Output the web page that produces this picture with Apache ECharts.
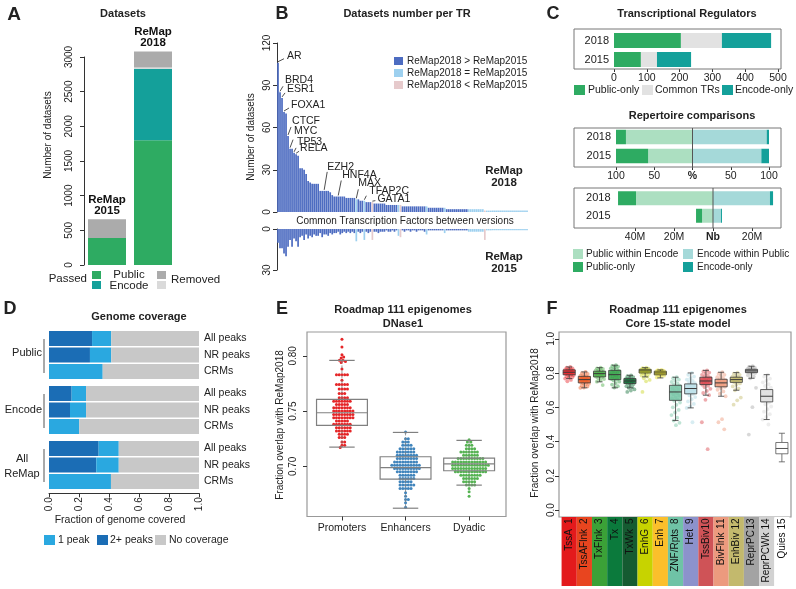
<!DOCTYPE html>
<html>
<head>
<meta charset="utf-8">
<script src="https://cdn.jsdelivr.net/npm/echarts@6.0.0/dist/echarts.min.js"></script>
<style>
html,body{margin:0;padding:0;background:#fff;}
#chart{width:796px;height:589px;}
</style>
</head>
<body>
<div id="chart"></div>
<script>
const FONT = "'Liberation Sans', Arial, Helvetica, sans-serif";
const INK = '#222';

// ---------------- Panel A : Datasets ----------------
const aYears = ['2015', '2018'];
const aPublicPassed = [390, 1800];
const aEncodePassed = [0, 1030];
const aEncodeRemoved = [0, 20];
const aPublicRemoved = [270, 230];
const aBarTitles = ['ReMap\n2015', 'ReMap\n2018'];

// ---------------- Panel B : Datasets number per TR ----------------
const bReMap2018 = [106,85,81,71,70,54,45,45,42,41,
  40,31,31,30,27,22,21,20,20,20,
  20,15,15,15,15,15,14,12,11,11,
  11,11,11,11,10,10,10,10,10,9,
  9,8,8,8,7,7,7,7,6,6,
  6,6,6,6,5,5,5,5,5,5,
  5,5,4,4,4,4,4,4,4,4,
  4,4,4,4,4,3,3,3,3,3,
  3,3,3,3,2,2,2,2,2,2,
  2,2,2,2,2,2,2,2,2,2,
  2,2,2,1,1,1,1,1,1,1,
  1,1,1,1,1,1,1,1,1,1,
  1,1,1,1,1];
const bReMap2015 = [10,14,14,18,20,13,8,13,7,9,
  13,6,5,8,4,7,5,6,4,5,
  5,3,6,4,4,5,3,4,3,3,
  2,4,3,2,3,2,3,2,3,9,
  2,3,2,8,2,3,2,8,2,2,
  3,2,2,2,1,2,2,1,2,1,
  5,6,1,2,1,1,2,1,1,2,
  1,1,1,2,4,1,1,1,1,1,
  1,1,1,3,1,1,1,1,1,1,
  1,1,1,1,1,2,2,2,2,2,
  2,2,2,8,1,1,1,1,1,1,
  1,1,1,1,1,1,1,1,1,1,
  1,1,1,1,1];
// 0: ReMap2018 > ReMap2015, 1: equal, 2: ReMap2018 < ReMap2015
const bComparison = [0,0,0,0,0,0,0,0,0,0,
  0,0,0,0,0,0,0,0,0,0,
  0,0,0,0,0,0,0,0,0,0,
  0,0,0,0,0,0,0,0,0,1,
  0,0,0,1,0,0,0,2,0,0,
  0,0,0,0,0,0,0,0,0,0,
  1,2,0,0,0,0,0,0,0,0,
  0,0,0,0,1,0,0,0,0,0,
  0,0,0,1,0,0,0,0,0,0,
  0,0,0,0,0,1,1,1,1,1,
  1,1,1,2,1,1,1,1,1,1,
  1,1,1,1,1,1,1,1,1,1,
  1,1,1,1,1];
const bLegendNames = ['ReMap2018 > ReMap2015', 'ReMap2018 = ReMap2015', 'ReMap2018 < ReMap2015'];
const bLabelNames = ['AR','BRD4','ESR1','FOXA1','CTCF','MYC','TP53','RELA','EZH2','HNF4A','MAX','TFAP2C','GATA1'];
const bLabelBars = [0,1,2,3,5,6,8,9,23,30,39,43,47];

// ---------------- Panel C ----------------
const cYears = ['2018', '2015'];
const cTRPublicOnly = [204, 82];
const cTRCommon = [125, 49];
const cTREncodeOnly = [150, 104];
const cPctPublicWithin = [87, 58];
const cPctPublicOnly = [13, 42];
const cPctEncodeWithin = [97, 90];
const cPctEncodeOnly = [3, 10];
const cNbPublicWithin = [39.5, 5.6];
const cNbPublicOnly = [9.2, 3.1];
const cNbEncodeWithin = [29.2, 4.1];
const cNbEncodeOnly = [1.6, 0.5];

// ---------------- Panel D : Genome coverage ----------------
const dGroups = ['Public', 'Encode', 'All\nReMap'];
const dRows = ['All peaks', 'NR peaks', 'CRMs'];
const dTwoPlus = [[0.287, 0.273, 0], [0.151, 0.140, 0], [0.331, 0.315, 0]];
const dOnePeak = [[0.128, 0.142, 0.358], [0.096, 0.107, 0.202], [0.134, 0.150, 0.413]];
const dNoCoverage = [[0.585, 0.585, 0.642], [0.753, 0.753, 0.798], [0.535, 0.535, 0.587]];

// ---------------- Panel E : DNase1 ----------------
const eGroups = ['Promoters', 'Enhancers', 'Dyadic'];
const ePromoters = [0.815,0.808,0.801,0.799,0.798,0.796,0.796,0.795,0.794,0.788,
  0.783,0.783,0.783,0.783,0.783,0.778,0.774,0.774,0.774,0.774,0.774,
  0.770,0.770,0.770,0.770,0.766,0.766,0.766,0.762,0.762,0.762,0.762,
  0.759,0.759,0.759,0.759,0.759,0.759,0.759,0.756,0.756,0.756,0.756,0.756,
  0.753,0.753,0.753,0.753,0.753,0.753,0.753,
  0.750,0.750,0.750,0.750,0.750,0.750,0.750,0.750,
  0.747,0.747,0.747,0.747,0.747,0.747,0.747,0.747,
  0.744,0.744,0.744,0.744,0.744,0.744,0.744,0.744,
  0.741,0.741,0.741,0.741,0.741,
  0.738,0.738,0.738,0.738,0.738,0.738,0.738,
  0.735,0.735,0.735,0.735,0.735,0.735,
  0.732,0.732,0.732,0.732,0.732,0.732,
  0.729,0.729,0.729,0.729,0.726,0.726,0.726,0.722,0.722,0.719,0.719,0.717];
const eEnhancers = [0.731,0.725,0.725,0.722,0.722,0.722,0.719,0.719,0.719,0.719,
  0.716,0.716,0.716,0.716,0.716,0.716,
  0.713,0.713,0.713,0.713,0.713,0.713,0.713,
  0.710,0.710,0.710,0.710,0.710,0.710,0.710,0.710,
  0.707,0.707,0.707,0.707,0.707,0.707,0.707,0.707,
  0.704,0.704,0.704,0.704,0.704,0.704,0.704,0.704,0.704,
  0.701,0.701,0.701,0.701,0.701,0.701,0.701,0.701,0.701,0.701,0.701,
  0.698,0.698,0.698,0.698,0.698,0.698,0.698,0.698,0.698,0.698,
  0.695,0.695,0.695,0.695,0.695,0.695,0.695,0.695,
  0.692,0.692,0.692,0.692,0.692,0.692,
  0.689,0.689,0.689,0.689,0.689,0.689,
  0.686,0.686,0.686,0.686,0.686,
  0.683,0.683,0.683,0.683,0.683,0.683,
  0.680,0.680,0.680,0.680,0.680,
  0.676,0.673,0.670,0.670,0.667,0.663];
const eDyadic = [0.724,0.722,0.722,0.719,0.719,0.719,0.716,0.716,0.716,0.716,
  0.713,0.713,0.713,0.713,0.713,0.713,0.713,
  0.710,0.710,0.710,0.710,0.710,0.710,
  0.707,0.707,0.707,0.707,0.707,0.707,0.707,0.707,0.707,0.707,
  0.704,0.704,0.704,0.704,0.704,0.704,0.704,0.704,0.704,0.704,0.704,0.704,0.704,
  0.701,0.701,0.701,0.701,0.701,0.701,0.701,0.701,0.701,0.701,0.701,0.701,0.701,0.701,
  0.698,0.698,0.698,0.698,0.698,0.698,0.698,0.698,0.698,0.698,0.698,0.698,0.698,
  0.695,0.695,0.695,0.695,0.695,0.695,0.695,0.695,0.695,0.695,0.695,0.695,
  0.692,0.692,0.692,0.692,0.692,0.692,0.692,0.692,
  0.689,0.689,0.689,0.689,0.689,0.689,
  0.686,0.686,0.686,0.686,0.686,
  0.683,0.683,0.683,0.683,0.680,0.677,0.673];
// [lower whisker, Q1, median, Q3, upper whisker]
const eBoxStats = [[0.7174,0.737,0.7485,0.7606,0.7959],[0.6621,0.6884,0.6988,0.7087,0.7307],[0.683,0.696,0.7023,0.7074,0.7235]];
const eYTicks = [0.70, 0.75, 0.80];

// ---------------- Panel F : Core 15-state model ----------------
const fStates = ['TssA','TssAFlnk','TxFlnk','Tx','TxWk','EnhG','Enh','ZNF/Rpts','Het','TssBiv','BivFlnk','EnhBiv','ReprPC','ReprPCWk','Quies'];
const fStateNumbers = ['1','2','3','4','5','6','7','8','9','10','11','12','13','14','15'];
const fBoxStats = [
  [0.768,0.790,0.805,0.819,0.836],
  [0.714,0.743,0.762,0.781,0.807],
  [0.749,0.778,0.797,0.811,0.832],
  [0.714,0.762,0.791,0.816,0.846],
  [0.714,0.739,0.754,0.768,0.787],
  [0.778,0.801,0.813,0.822,0.832],
  [0.772,0.790,0.801,0.811,0.819],
  [0.523,0.641,0.690,0.729,0.776],
  [0.597,0.679,0.710,0.737,0.801],
  [0.671,0.733,0.754,0.776,0.816],
  [0.665,0.720,0.743,0.764,0.805],
  [0.700,0.746,0.762,0.776,0.803],
  [0.770,0.803,0.813,0.822,0.840],
  [0.529,0.632,0.665,0.704,0.791],
  [0.282,0.329,0.360,0.395,0.449]];
const fPoints = [
  [0.836,0.832,0.828,0.825,0.822,0.82,0.818,0.815,0.813,0.81,0.808,0.806,0.805,0.804,0.802,0.8,0.798,0.796,0.793,0.79,0.787,0.784,0.78,0.776,0.772,0.768,0.76,0.752],
  [0.807,0.8,0.795,0.79,0.785,0.781,0.778,0.775,0.772,0.769,0.766,0.763,0.762,0.76,0.757,0.754,0.751,0.748,0.745,0.742,0.738,0.733,0.728,0.722,0.716,0.714],
  [0.832,0.828,0.824,0.82,0.816,0.812,0.809,0.806,0.803,0.8,0.798,0.797,0.795,0.792,0.789,0.786,0.783,0.779,0.775,0.77,0.765,0.758,0.75,0.73],
  [0.846,0.842,0.838,0.833,0.828,0.823,0.818,0.814,0.81,0.805,0.8,0.795,0.791,0.787,0.782,0.777,0.772,0.767,0.763,0.758,0.75,0.742,0.733,0.724,0.716],
  [0.787,0.782,0.777,0.772,0.768,0.765,0.762,0.759,0.756,0.754,0.752,0.749,0.746,0.743,0.74,0.736,0.73,0.724,0.718,0.714,0.705,0.698,0.69],
  [0.832,0.829,0.826,0.823,0.821,0.819,0.817,0.815,0.813,0.811,0.809,0.807,0.805,0.803,0.8,0.796,0.791,0.786,0.78,0.77,0.76,0.752,0.69],
  [0.819,0.817,0.815,0.813,0.811,0.809,0.807,0.805,0.803,0.801,0.799,0.797,0.795,0.792,0.789,0.785,0.78,0.775],
  [0.776,0.77,0.762,0.755,0.748,0.74,0.733,0.727,0.72,0.712,0.705,0.698,0.69,0.683,0.676,0.668,0.66,0.652,0.645,0.638,0.628,0.615,0.6,0.585,0.57,0.555,0.54,0.523,0.51,0.496],
  [0.801,0.79,0.78,0.77,0.762,0.755,0.748,0.742,0.736,0.73,0.724,0.718,0.712,0.708,0.703,0.697,0.69,0.684,0.678,0.67,0.66,0.648,0.635,0.62,0.605,0.597,0.513],
  [0.816,0.81,0.803,0.797,0.79,0.784,0.778,0.774,0.77,0.765,0.76,0.756,0.753,0.75,0.746,0.742,0.737,0.732,0.726,0.718,0.708,0.696,0.684,0.671,0.644,0.513,0.356],
  [0.805,0.797,0.79,0.783,0.776,0.77,0.764,0.759,0.754,0.749,0.745,0.741,0.736,0.731,0.726,0.72,0.712,0.703,0.693,0.68,0.665,0.531,0.513,0.472],
  [0.803,0.797,0.79,0.785,0.78,0.776,0.772,0.768,0.765,0.762,0.76,0.757,0.754,0.75,0.746,0.74,0.732,0.722,0.71,0.7,0.657,0.641,0.616],
  [0.84,0.836,0.832,0.828,0.825,0.822,0.82,0.818,0.816,0.814,0.812,0.81,0.808,0.806,0.803,0.8,0.795,0.788,0.78,0.77,0.714,0.601,0.441],
  [0.791,0.78,0.768,0.757,0.746,0.735,0.725,0.715,0.706,0.698,0.69,0.682,0.674,0.667,0.66,0.652,0.644,0.636,0.628,0.618,0.605,0.59,0.575,0.56,0.545,0.529,0.5],
  [0.449,0.43,0.41,0.395,0.38,0.37,0.36,0.35,0.34,0.329,0.31,0.295,0.282]];
const fYTicks = [0, 0.2, 0.4, 0.6, 0.8, 1.0];

// ---------------- Styles ----------------
const GREEN = '#2eab62', TEAL = '#14a09a', GRAY = '#ababab', LGRAY = '#dadada';
const COMMON = '#e2e2e2', LGREEN = '#acdfc1', LTEAL = '#a5d9d9';
const B_COLORS = ['#4d6cc1', '#9dd0ef', '#e6cacc'];
const D_ONE = '#2aa8e0', D_TWO = '#1b6db5', D_NONE = '#c8c8c8';
const E_COLORS = ['#e41a1c', '#377eb8', '#4daf4a'];
const F_BAND = ['#e31a1c','#e8451f','#3ba137','#0b7a3c','#155b31','#c7d300','#fbbf2b','#6fc3a6','#8c92cc','#cf5357','#ec9a7e','#c3b96d','#a3a3a3','#d2d2d2','#ffffff'];
const F_BOX = ['#e8262b','#ee5a24','#4cae48','#32a046','#0f6c35','#c9d41f','#e8df1c','#72c3a2','#b9dfe7','#d9444c','#ee9677','#c4bb6a','#a8a8a8','#dddddd','#ffffff'];
const F_PT = ['#e8262b','#ee5a24','#4cae48','#32a046','#0f6c35','#c9d41f','#e8df1c','#72c3a2','#a9d8e3','#d9444c','#ee9677','#c4bb6a','#a8a8a8','#d6d6d6','#ffffff'];
const F_NAME_OFFSET = [12,12,12,12,12,12,12,12,12,13,15.5,15.5,13,15.5,15.5];

const lab = (o) => Object.assign({fontFamily: FONT, fontSize: 10, color: INK}, o || {});
const tickStyle = {color: '#333', width: 1};

const grids = [], xAxes = [], yAxes = [], series = [], G = [];

function T(x, y, text, o) {
  o = o || {};
  const al = o.align || 'center';
  G.push({type: 'text', x: x, y: y, rotation: o.rot || 0, silent: true, z: 100,
    style: {text: text, fill: o.color || INK, font: (o.bold ? 'bold ' : '') + (o.size || 10) + 'px ' + FONT,
      textAlign: al, align: al, textVerticalAlign: 'middle', verticalAlign: 'middle', lineHeight: o.lh || null}});
}
function R(x, y, w, h, fill, stroke) {
  G.push({type: 'rect', shape: {x: x, y: y, width: w, height: h}, silent: true, z: 90,
    style: {fill: fill || 'none', stroke: stroke || null, lineWidth: 1}});
}
function L(x1, y1, x2, y2, color, w) {
  G.push({type: 'line', shape: {x1: x1, y1: y1, x2: x2, y2: y2}, silent: true, z: 90,
    style: {stroke: color || '#444', lineWidth: w || 1}});
}

// ===== Grid 0 : A =====
grids.push({left: 84, top: 57, width: 92, height: 208});
xAxes.push({gridIndex: 0, type: 'category', data: aYears, show: false});
yAxes.push({gridIndex: 0, type: 'value', min: 0, max: 3000, interval: 500, splitLine: {show: false},
  axisLine: {show: true, lineStyle: tickStyle}, axisTick: {show: true, length: 4, lineStyle: tickStyle},
  axisLabel: lab({rotate: 90, margin: 10, formatter: v => String(v)})});
[[aPublicPassed, GREEN], [aEncodePassed, TEAL], [aEncodeRemoved, LGRAY], [aPublicRemoved, GRAY]].forEach((s, k) => {
  series.push({type: 'bar', xAxisIndex: 0, yAxisIndex: 0, stack: 'a', barWidth: 38, clip: false,
    data: s[0], itemStyle: {color: s[1]},
    label: k === 3 ? {show: true, position: 'top', distance: 3, formatter: p => aBarTitles[p.dataIndex],
      fontFamily: FONT, fontWeight: 'bold', fontSize: 11.5, lineHeight: 11, color: '#111'} : {show: false}});
});

// ===== Grid 1,2 : B =====
const bIdx = bReMap2018.map((v, i) => String(i));
grids.push({left: 277, top: 43, width: 251, height: 169});
grids.push({left: 277, top: 229, width: 251, height: 41});
xAxes.push({gridIndex: 1, type: 'category', data: bIdx, show: false});
xAxes.push({gridIndex: 2, type: 'category', data: bIdx, show: false});
yAxes.push({gridIndex: 1, type: 'value', min: 0, max: 120, interval: 30, splitLine: {show: false},
  axisLine: {show: true, lineStyle: tickStyle}, axisTick: {show: true, length: 4, lineStyle: tickStyle},
  axisLabel: lab({rotate: 90, margin: 5})});
yAxes.push({gridIndex: 2, type: 'value', min: 0, max: 30, interval: 30, inverse: true, splitLine: {show: false},
  axisLine: {show: true, lineStyle: tickStyle}, axisTick: {show: true, length: 4, lineStyle: tickStyle},
  axisLabel: lab({rotate: 90, margin: 5})});
series.push({type: 'bar', xAxisIndex: 1, yAxisIndex: 1, barCategoryGap: '15%',
  data: bReMap2018.map((v, i) => ({value: v, itemStyle: {color: B_COLORS[bComparison[i]]}}))});
series.push({type: 'bar', xAxisIndex: 2, yAxisIndex: 2, barCategoryGap: '15%',
  data: bReMap2015.map((v, i) => ({value: v, itemStyle: {color: B_COLORS[bComparison[i]]}}))});
// label layout: [lineEndDx, lineEndDy, textDx, textDy] relative to bar top
const B_LABEL_LAYOUT = [[6,-4,9,-7],[3,-6,5,-12],[3,-5,5,-9],[5,-4,7,-7],[3,-9,4,-15],[3,-9,4,-17.6],
  [2,-5,3,-11],[3,-3,4,-6],[3,-19,3,-24],[3,-16,4,-21],[2,-10,2,-16],[2,-5,5,-10],[3,-1.5,5,-3]];
series.push({type: 'custom', xAxisIndex: 1, yAxisIndex: 1, z: 10,
  data: bLabelBars.map((b, k) => [b, bReMap2018[b], k]), encode: {x: 0, y: 1},
  renderItem: (params, api) => {
    const k = api.value(2), lay = B_LABEL_LAYOUT[k];
    const p = api.coord([api.value(0), api.value(1)]);
    return {type: 'group', children: [
      {type: 'line', shape: {x1: p[0], y1: p[1] - 1, x2: p[0] + lay[0], y2: p[1] + lay[1]}, style: {stroke: '#222', lineWidth: 0.8}},
      {type: 'text', x: p[0] + lay[2], y: p[1] + lay[3], style: {text: bLabelNames[k], fill: '#222', font: '10.5px ' + FONT,
        align: 'left', textAlign: 'left', verticalAlign: 'middle', textVerticalAlign: 'middle'}}
    ]};
  }});

// ===== Grid 3 : C Transcriptional Regulators =====
grids.push({left: 614, top: 31, width: 164, height: 38});
xAxes.push({gridIndex: 3, type: 'value', min: 0, max: 500, interval: 100, splitLine: {show: false},
  axisLine: {show: false}, axisTick: {show: true, length: 3, lineStyle: tickStyle}, axisLabel: lab({margin: 4, fontSize: 10.5})});
yAxes.push({gridIndex: 3, type: 'category', data: cYears, inverse: true, axisLine: {show: false}, axisTick: {show: false},
  axisLabel: lab({margin: 5, fontSize: 11})});
[[cTRPublicOnly, GREEN], [cTRCommon, COMMON], [cTREncodeOnly, TEAL]].forEach(s => {
  series.push({type: 'bar', xAxisIndex: 3, yAxisIndex: 3, stack: 'c1', barWidth: 15, data: s[0], itemStyle: {color: s[1]}});
});

// ===== Grid 4 : C Repertoire % =====
grids.push({left: 616, top: 127.5, width: 153, height: 38});
xAxes.push({gridIndex: 4, type: 'value', min: -100, max: 100, interval: 50, offset: 1.5, splitLine: {show: false},
  axisLine: {show: false}, axisTick: {show: true, length: 3, lineStyle: tickStyle},
  axisLabel: lab({margin: 4, fontSize: 10.5, formatter: v => v === 0 ? '{b|%}' : String(Math.abs(v)),
    rich: {b: {fontWeight: 'bold', fontFamily: FONT, fontSize: 10.5, color: INK}}})});
yAxes.push({gridIndex: 4, type: 'category', data: cYears, inverse: true, axisLine: {show: false}, axisTick: {show: false},
  axisLabel: lab({margin: 5, fontSize: 11})});
[[cPctPublicWithin, LGREEN, -1], [cPctPublicOnly, GREEN, -1], [cPctEncodeWithin, LTEAL, 1], [cPctEncodeOnly, TEAL, 1]].forEach(s => {
  series.push({type: 'bar', xAxisIndex: 4, yAxisIndex: 4, stack: 'c2', barWidth: 14.5,
    data: s[0].map(v => v * s[2]), itemStyle: {color: s[1]}});
});

// ===== Grid 5 : C Repertoire Nb =====
grids.push({left: 615.5, top: 189.5, width: 165.75, height: 35});
xAxes.push({gridIndex: 5, type: 'value', min: -50, max: 35, offset: 3.5, splitLine: {show: false},
  axisLine: {show: false}, axisTick: {show: true, length: 3, lineStyle: tickStyle, customValues: [-40, -20, 0, 20]},
  axisLabel: lab({margin: 4, fontSize: 10.5, customValues: [-40, -20, 0, 20],
    formatter: v => v === 0 ? '{b|Nb}' : Math.abs(v) + 'M',
    rich: {b: {fontWeight: 'bold', fontFamily: FONT, fontSize: 10.5, color: INK}}})});
yAxes.push({gridIndex: 5, type: 'category', data: cYears, inverse: true, axisLine: {show: false}, axisTick: {show: false},
  axisLabel: lab({margin: 5, fontSize: 11})});
[[cNbPublicWithin, LGREEN, -1], [cNbPublicOnly, GREEN, -1], [cNbEncodeWithin, LTEAL, 1], [cNbEncodeOnly, TEAL, 1]].forEach(s => {
  series.push({type: 'bar', xAxisIndex: 5, yAxisIndex: 5, stack: 'c3', barWidth: 14,
    data: s[0].map(v => v * s[2]), itemStyle: {color: s[1]}});
});

// ===== Grids 6-8 : D =====
const dTops = [330.25, 385.25, 440.25];
dGroups.forEach((g, gi) => {
  const idx = 6 + gi;
  grids.push({left: 49, top: dTops[gi], width: 150, height: 49.5});
  xAxes.push({gridIndex: idx, type: 'value', min: 0, max: 1, interval: 0.2, show: gi === 2, offset: 3.5,
    splitLine: {show: false}, axisLine: {show: true, lineStyle: tickStyle}, axisTick: {show: true, length: 4, lineStyle: tickStyle},
    axisLabel: lab({rotate: 90, margin: 4, formatter: v => v.toFixed(1)})});
  yAxes.push({gridIndex: idx, type: 'category', data: dRows, inverse: true, position: 'right',
    axisLine: {show: false}, axisTick: {show: false}, axisLabel: lab({margin: 5, fontSize: 10.5})});
  [[dTwoPlus[gi], D_TWO], [dOnePeak[gi], D_ONE], [dNoCoverage[gi], D_NONE]].forEach(s => {
    series.push({type: 'bar', xAxisIndex: idx, yAxisIndex: idx, stack: 'd' + gi, barWidth: 15, data: s[0], itemStyle: {color: s[1]}});
  });
});

// ===== Grid 9 : E =====
const E_X = [0.45, 3.58], E_Y = [0.6546, 0.8216];
grids.push({left: 307, top: 332, width: 199, height: 184.5, show: true, borderColor: '#999', borderWidth: 1.2});
xAxes.push({gridIndex: 9, type: 'value', min: E_X[0], max: E_X[1], splitLine: {show: false}, axisLine: {show: false},
  axisTick: {show: true, length: 4, lineStyle: tickStyle, customValues: [1, 2, 3]},
  axisLabel: lab({fontSize: 10.5, margin: 6, customValues: [1, 2, 3], formatter: v => eGroups[Math.round(v) - 1] || ''})});
yAxes.push({gridIndex: 9, type: 'value', min: E_Y[0], max: E_Y[1], splitLine: {show: false}, axisLine: {show: false},
  axisTick: {show: true, length: 4, lineStyle: tickStyle, customValues: eYTicks},
  axisLabel: lab({rotate: 90, margin: 9, customValues: eYTicks, formatter: v => v.toFixed(2)})});
// beeswarm layout (pixel-based horizontal offsets)
function swarm(values, pxPerUnitY, d) {
  const order = values.map((v, i) => i).sort((a, b) => values[b] - values[a]);
  const placed = [], off = new Array(values.length);
  for (const i of order) {
    const y = values[i] * pxPerUnitY;
    let best = 0;
    for (let k = 0; k < 400; k++) {
      const cand = (k % 2 === 1 ? 1 : -1) * Math.ceil(k / 2) * 0.25;
      let ok = true;
      for (const p of placed) { const dx = p.x - cand, dy = p.y - y; if (dx * dx + dy * dy < d * d) { ok = false; break; } }
      if (ok) { best = cand; break; }
    }
    placed.push({x: best, y: y}); off[i] = best;
  }
  return off;
}
const ePxY = 184.5 / (E_Y[1] - E_Y[0]), ePxX = 199 / (E_X[1] - E_X[0]);
[ePromoters, eEnhancers, eDyadic].forEach((vals, gi) => {
  const off = swarm(vals, ePxY, 2.7);
  series.push({type: 'scatter', xAxisIndex: 9, yAxisIndex: 9, symbolSize: 3, z: 3,
    itemStyle: {color: E_COLORS[gi], opacity: 0.95},
    data: vals.map((v, i) => [gi + 1 + off[i] / ePxX, v])});
});
function boxRenderer(cfg) {
  return (params, api) => {
    const x = api.value(0), lw = api.value(1), q1 = api.value(2), med = api.value(3), q3 = api.value(4), uw = api.value(5);
    const k = params.dataIndex;
    const tl = api.coord([x - cfg.half, q3]), br = api.coord([x + cfg.half, q1]);
    const m = api.coord([x, med]), up = api.coord([x, uw]), lo = api.coord([x, lw]);
    const cl = api.coord([x - cfg.cap, med])[0], cr = api.coord([x + cfg.cap, med])[0];
    const st = {stroke: cfg.stroke(k), lineWidth: cfg.lw};
    const wst = {stroke: cfg.stroke(k), lineWidth: cfg.wlw, lineDash: cfg.dash};
    return {type: 'group', children: [
      {type: 'line', shape: {x1: m[0], y1: up[1], x2: m[0], y2: tl[1]}, style: wst},
      {type: 'line', shape: {x1: m[0], y1: br[1], x2: m[0], y2: lo[1]}, style: wst},
      {type: 'line', shape: {x1: cl, y1: up[1], x2: cr, y2: up[1]}, style: st},
      {type: 'line', shape: {x1: cl, y1: lo[1], x2: cr, y2: lo[1]}, style: st},
      {type: 'rect', shape: {x: tl[0], y: tl[1], width: br[0] - tl[0], height: br[1] - tl[1]},
        style: {fill: cfg.fill(k), stroke: cfg.stroke(k), lineWidth: cfg.lw}},
      {type: 'line', shape: {x1: tl[0], y1: m[1], x2: br[0], y2: m[1]}, style: {stroke: cfg.stroke(k), lineWidth: cfg.mlw}}
    ]};
  };
}
series.push({type: 'custom', xAxisIndex: 9, yAxisIndex: 9, z: 5, encode: {x: 0, y: [1, 2, 3, 4, 5]},
  data: eBoxStats.map((s, i) => [i + 1].concat(s)),
  renderItem: boxRenderer({half: 0.4, cap: 0.2, lw: 1.2, wlw: 0.8, mlw: 1.2, dash: [3, 2],
    stroke: () => '#808080', fill: () => 'rgba(0,0,0,0)'})});

// ===== Grid 10 : F =====
const F_X = [0.33, 15.6];
grids.push({left: 559, top: 332, width: 232, height: 185, show: true, borderColor: '#999', borderWidth: 1.2});
xAxes.push({gridIndex: 10, type: 'value', min: F_X[0], max: F_X[1], show: false, splitLine: {show: false}});
yAxes.push({gridIndex: 10, type: 'value', min: -0.04, max: 1.04, splitLine: {show: false}, axisLine: {show: false},
  axisTick: {show: true, length: 4, lineStyle: tickStyle, customValues: fYTicks},
  axisLabel: lab({rotate: 90, margin: 3, customValues: fYTicks, formatter: v => v.toFixed(1)})});
const fScatter = [];
fPoints.forEach((vals, ci) => {
  vals.forEach((v, k) => {
    const jit = (((k + 1) * 0.6180339887) % 1 - 0.5) * 0.62;
    fScatter.push({value: [ci + 1 + jit, v], itemStyle: {color: F_PT[ci]}});
  });
});
series.push({type: 'scatter', xAxisIndex: 10, yAxisIndex: 10, symbolSize: 3.8, z: 3, itemStyle: {opacity: 0.45}, data: fScatter});
series.push({type: 'custom', xAxisIndex: 10, yAxisIndex: 10, z: 5, encode: {x: 0, y: [1, 2, 3, 4, 5]},
  data: fBoxStats.map((s, i) => [i + 1].concat(s)),
  renderItem: boxRenderer({half: 0.4, cap: 0.2, lw: 0.8, wlw: 0.8, mlw: 1, dash: null,
    stroke: k => k === 14 ? '#555' : '#3a3a3a',
    fill: k => echarts.color.modifyAlpha(F_BOX[k], 0.8)})});

// ===== Grid 11 : F colour band =====
grids.push({left: 559, top: 517, width: 232, height: 69});
xAxes.push({gridIndex: 11, type: 'value', min: F_X[0], max: F_X[1], show: false, splitLine: {show: false}});
yAxes.push({gridIndex: 11, type: 'value', min: 0, max: 1, show: false, splitLine: {show: false}});
series.push({type: 'custom', xAxisIndex: 11, yAxisIndex: 11, encode: {x: 0, y: 1},
  data: fStates.map((s, i) => [i + 1, 0, i]),
  renderItem: (params, api) => {
    const i = api.value(2), x = api.value(0);
    const a = api.coord([x - 0.5, 1]), b = api.coord([x + 0.5, 0]);
    const cx = (a[0] + b[0]) / 2;
    const font = '10px ' + FONT;
    return {type: 'group', children: [
      {type: 'rect', shape: {x: a[0], y: a[1], width: b[0] - a[0], height: b[1] - a[1]}, style: {fill: F_BAND[i]}},
      {type: 'text', x: cx, y: a[1] + 1.5, rotation: Math.PI / 2,
        style: {text: fStateNumbers[i], font: font, fill: '#111', align: 'right', textAlign: 'right', verticalAlign: 'middle', textVerticalAlign: 'middle'}},
      {type: 'text', x: cx, y: a[1] + F_NAME_OFFSET[i], rotation: Math.PI / 2,
        style: {text: fStates[i], font: font, fill: '#111', align: 'right', textAlign: 'right', verticalAlign: 'middle', textVerticalAlign: 'middle'}}
    ]};
  }});

// ================= Texts, legends, frames =================
T(14, 15, 'A', {bold: true, size: 19});
T(282, 14, 'B', {bold: true, size: 18});
T(553, 14, 'C', {bold: true, size: 18});
T(10, 309, 'D', {bold: true, size: 18});
T(282, 309, 'E', {bold: true, size: 18});
T(552, 309, 'F', {bold: true, size: 18});
T(123, 14, 'Datasets', {bold: true, size: 11});
T(407, 14, 'Datasets number per TR', {bold: true, size: 11});
T(687, 14, 'Transcriptional Regulators', {bold: true, size: 11});
T(692, 116, 'Repertoire comparisons', {bold: true, size: 11});
T(139, 317, 'Genome coverage', {bold: true, size: 11});
T(403, 310, 'Roadmap 111 epigenomes', {bold: true, size: 11});
T(403, 324, 'DNase1', {bold: true, size: 11});
T(678, 310, 'Roadmap 111 epigenomes', {bold: true, size: 11});
T(678, 324, 'Core 15-state model', {bold: true, size: 11});
T(48, 135, 'Number of datasets', {rot: Math.PI / 2, size: 10});
T(251, 137, 'Number of datasets', {rot: Math.PI / 2, size: 10});
T(280, 425, 'Fraction overlap with ReMap2018', {rot: Math.PI / 2, size: 10});
T(535, 423, 'Fraction overlap with ReMap2018', {rot: Math.PI / 2, size: 10});
T(120, 520, 'Fraction of genome covered', {size: 10.5});
T(87, 279, 'Passed', {align: 'right', size: 11.5});
R(92, 271, 9, 8, GREEN); R(92, 281, 9, 8, TEAL);
T(129, 275, 'Public', {size: 11.5}); T(129, 286, 'Encode', {size: 11.5});
R(157, 271, 9, 8, GRAY); R(157, 281, 9, 8, LGRAY);
T(171, 280, 'Removed', {align: 'left', size: 11.5});
T(504, 171, 'ReMap', {bold: true, size: 11.5}); T(504, 183, '2018', {bold: true, size: 11.5});
T(504, 257, 'ReMap', {bold: true, size: 11.5}); T(504, 269, '2015', {bold: true, size: 11.5});
T(405, 221, 'Common Transcription Factors between versions', {size: 10});
bLegendNames.forEach((n, k) => { R(394, 57 + 12 * k, 9, 8, B_COLORS[k]); T(407, 61 + 12 * k, n, {align: 'left', size: 10}); });
R(574, 29, 207, 40, 'none', '#777');
R(574, 128, 207, 39, 'none', '#777');
R(574, 188, 207, 40, 'none', '#777');
R(574, 85, 11, 10, GREEN); T(588, 90, 'Public-only', {align: 'left', size: 10.5});
R(642, 85, 11, 10, COMMON); T(655, 90, 'Common TRs', {align: 'left', size: 10.5});
R(722, 85, 11, 10, TEAL); T(735, 90, 'Encode-only', {align: 'left', size: 10.5});
R(573, 249, 10, 10, LGREEN); T(586, 254, 'Public within Encode', {align: 'left', size: 10});
R(683, 249, 10, 10, LTEAL); T(697, 254, 'Encode within Public', {align: 'left', size: 10});
R(573, 262, 10, 10, GREEN); T(586, 267, 'Public-only', {align: 'left', size: 10});
R(683, 262, 10, 10, TEAL); T(697, 267, 'Encode-only', {align: 'left', size: 10});
T(42, 353, 'Public', {align: 'right', size: 11}); L(44, 339, 44, 373, '#555');
T(42, 410, 'Encode', {align: 'right', size: 11}); L(44, 394, 44, 428, '#555');
T(22, 459, 'All', {size: 11}); T(22, 474, 'ReMap', {size: 11}); L(44, 449, 44, 482, '#555');
R(44, 535, 11, 10, D_ONE); T(58, 540, '1 peak', {align: 'left', size: 10.5});
R(97, 535, 11, 10, D_TWO); T(110, 540, '2+ peaks', {align: 'left', size: 10.5});
R(155, 535, 11, 10, D_NONE); T(169, 540, 'No coverage', {align: 'left', size: 10.5});

const chart = echarts.init(document.getElementById('chart'), null, {renderer: 'canvas', width: 796, height: 589});
chart.setOption({animation: false, backgroundColor: '#fff', grid: grids, xAxis: xAxes, yAxis: yAxes, series: series, graphic: G});
const c0a = chart.convertToPixel({gridIndex: 4}, [0, 0])[0];
const c0b = chart.convertToPixel({gridIndex: 5}, [0, 0])[0];
L(c0a, 128, c0a, 167, '#555');
L(c0b, 188, c0b, 228, '#555');
chart.setOption({graphic: G});
</script>
</body>
</html>
